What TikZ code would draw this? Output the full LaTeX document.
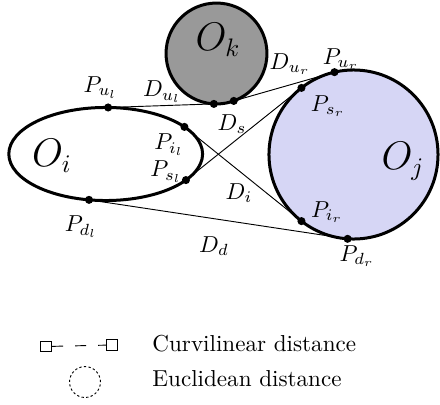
\documentclass[tikz,border=0pt]{standalone}
\usepackage{amsmath}
\usetikzlibrary{shapes.geometric}
\definecolor{ObstGray}{RGB}{153,153,153}
\definecolor{ObstBlue}{RGB}{214,214,245}
\pgfdeclarelayer{background}
\pgfsetlayers{background,main}

\begin{document}
\begin{tikzpicture}[x=0.433pt,y=-0.433pt,
  obst/.style={draw, line width=1.3pt, inner sep=0pt, outer sep=0pt},
  pt/.style={circle, fill, inner sep=0pt, minimum size=3.5pt},
  big/.style={font=\fontsize{16}{18}\selectfont},
  sq/.style={draw, thin, inner sep=0pt, minimum size=4.6pt}]
\useasboundingbox (0,0) rectangle (440,405);

% Obstacles
\node[obst, ellipse, fill=white, minimum width=83.9pt, minimum height=40.3pt] (Oi) at (105.7,154) {};
\node[obst, circle, fill=ObstGray, minimum size=43.7pt] (Ok) at (216.5,53.5) {};
\node[obst, circle, fill=ObstBlue, minimum size=73.2pt] (Oj) at (353.5,154.5) {};

% Points on the boundaries
\node[pt] (Pul) at (Oi.87.3) {};
\node[pt] (Pil) at (Oi.19.4) {};
\node[pt] (Psl) at (Oi.342) {};
\node[pt] (Pdl) at (Oi.250.2) {};
\node[pt] (Pkl) at (Ok.267) {};
\node[pt] (Pkr) at (Ok.290.5) {};
\node[pt] (Pur) at (Oj.103.1) {};
\node[pt] (Psr) at (Oj.128.2) {};
\node[pt] (Pir) at (Oj.232.7) {};
\node[pt] (Pdr) at (Oj.266.9) {};

% Distances
\begin{pgfonlayer}{background}
\draw[thin] (Pul.center) -- (Pkl.center);
\draw[thin] (Pkr.center) -- (Pur.center);
\draw[thin] (Psl.center) -- (Psr.center);
\draw[thin] (Pil.center) -- (Pir.center);
\draw[thin] (Pdl.center) -- (Pdr.center);
\end{pgfonlayer}

% Labels
\node[big] (lOi) at (52,156) {$O_i$};
\node[big] (lOk) at (218,40) {$O_k$};
\node[big] (lOj) at (403,161) {$O_j$};
\node (lPul) at (100.5,87.5) {$P_{u_l}$};
\node (lDul) at (162,92) {$D_{u_l}$};
\node (lDur) at (290,64) {$D_{u_r}$};
\node (lPur) at (341,59) {$P_{u_r}$};
\node (lPsr) at (328,106) {$P_{s_r}$};
\node (lDs) at (232,124) {$D_s$};
\node (lPil) at (169,145) {$P_{i_l}$};
\node (lPsl) at (166,172) {$P_{s_l}$};
\node (lDi) at (239,193) {$D_i$};
\node (lPir) at (327,212) {$P_{i_r}$};
\node (lPdl) at (81,227) {$P_{d_l}$};
\node (lDd) at (214,246) {$D_d$};
\node (lPdr) at (357,256) {$P_{d_r}$};

% Legend
\node[sq] (cl) at (46.2,346.5) {};
\node[sq] (cr) at (111.7,345) {};
\draw[thin, dash pattern=on 4.8pt off 5.2pt] (cl) -- (cr);
\node[circle, draw, thin, dash pattern=on 1pt off 1pt, minimum size=13.4pt] (eu) at (85,382) {};
\node[anchor=base west, inner sep=0pt] (tcl) at (152,351.7) {Curvilinear distance};
\node[anchor=base west, inner sep=0pt] (teu) at (152,386.7) {Euclidean distance};
\end{tikzpicture}
\end{document}
